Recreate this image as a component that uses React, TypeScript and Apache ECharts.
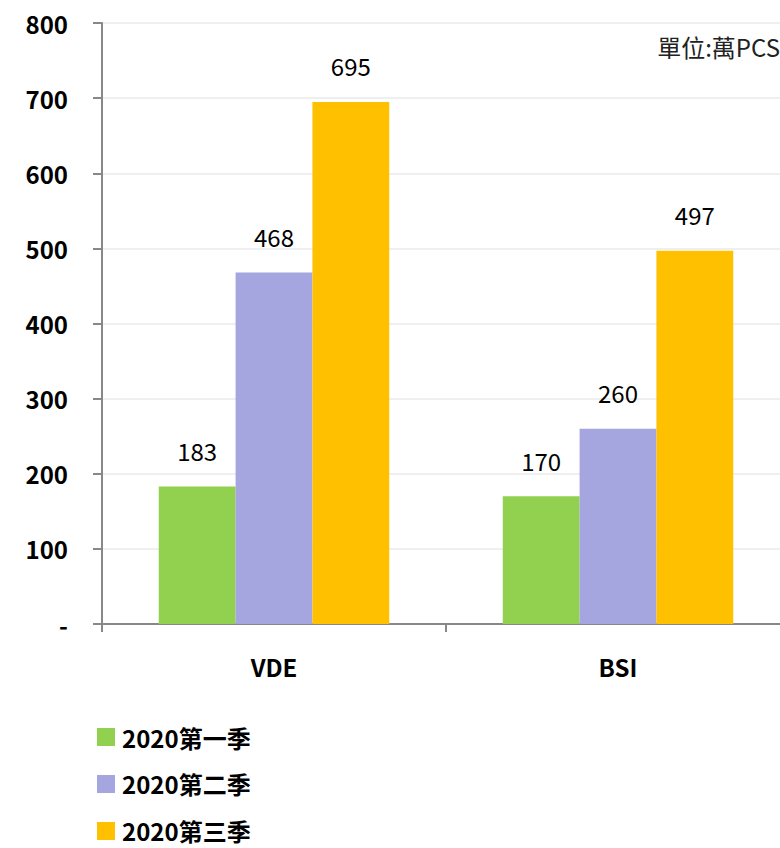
import React, { useEffect, useRef } from "react";
import * as echarts from "echarts";

const categories = ["VDE", "BSI"];
const seriesNames = ["2020第一季", "2020第二季", "2020第三季"];
const q1 = [183, 170];
const q2 = [468, 260];
const q3 = [695, 497];
const colors = ["#92D050", "#A5A5DF", "#FFC000"];
const unitText = "單位:萬PCS";

const FONT = "'Noto Sans CJK TC', 'Noto Sans', sans-serif";

export default function App() {
  const ref = useRef<HTMLDivElement>(null);
  useEffect(() => {
    if (!ref.current) return;
    const chart = echarts.init(ref.current, null, { renderer: "svg" });
    const values = [q1, q2, q3];
    chart.setOption({
      animation: false,
      textStyle: { fontFamily: FONT },
      grid: { left: 102, right: 0, top: 23, height: 601, containLabel: false },
      legend: {
        orient: "vertical",
        left: 92,
        top: 720,
        height: 200,
        itemWidth: 18,
        itemHeight: 18,
        itemGap: 23,
        icon: "rect",
        data: seriesNames,
        textStyle: { fontSize: 24, fontWeight: "bold", color: "#000", fontFamily: FONT, padding: [0, 0, 0, 2] },
      },
      graphic: [
        {
          type: "text",
          right: 10,
          top: 34,
          style: { text: unitText, fontSize: 24, fill: "#222", fontFamily: FONT },
        },
      ],
      xAxis: {
        type: "category",
        data: categories,
        axisLine: { lineStyle: { color: "#888", width: 2 } },
        axisTick: { show: true, length: 8, lineStyle: { color: "#888", width: 2 } },
        axisLabel: { fontSize: 24, fontWeight: "bold", color: "#000", margin: 30, fontFamily: FONT },
      },
      yAxis: {
        type: "value",
        min: 0,
        max: 800,
        interval: 100,
        axisLine: { show: true, lineStyle: { color: "#888", width: 2 } },
        axisTick: { show: true, length: 9, lineStyle: { color: "#888", width: 2 } },
        axisLabel: {
          fontSize: 24,
          fontWeight: "bold",
          color: "#000",
          margin: 34,
          fontFamily: FONT,
          formatter: (v: number) => (v === 0 ? "-" : String(v)),
        },
        splitLine: { lineStyle: { color: "#EFEFEF", width: 2 } },
      },
      series: seriesNames.map((name, i) => ({
        name,
        type: "bar",
        data: values[i],
        barGap: "0%",
        barCategoryGap: "33%",
        itemStyle: { color: colors[i] },
        label: {
          show: true,
          position: "top",
          distance: 24,
          fontSize: 24,
          fontWeight: "normal",
          color: "#000",
          fontFamily: FONT,
        },
      })),
    });
    return () => chart.dispose();
  }, []);
  return (
    <div style={{ position: "fixed", left: 0, top: 0, width: 780, height: 848, overflow: "hidden", background: "#fff" }}>
      <div ref={ref} style={{ width: 790, height: 848 }} />
    </div>
  );
}
